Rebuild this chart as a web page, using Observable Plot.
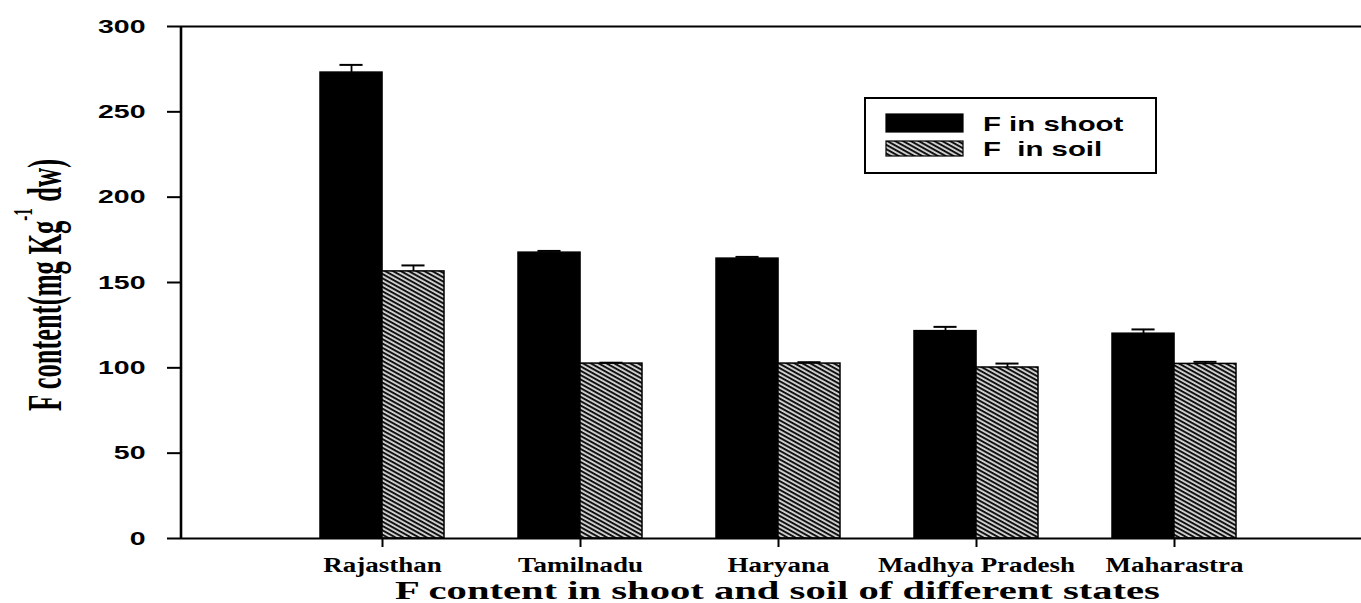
<!DOCTYPE html>
<html>
<head>
<meta charset="utf-8">
<script src="https://cdn.jsdelivr.net/npm/d3@7"></script>
<script src="https://cdn.jsdelivr.net/npm/@observablehq/plot@0.6"></script>
<style>
  html, body { margin: 0; padding: 0; background: #fff; overflow: hidden; }
  #chart svg { display: block; }
</style>
</head>
<body>
<div id="chart"></div>
<script>
// Fluoride content by state (mg Kg-1 dw), mean with upper error bar
const states = ["Rajasthan", "Tamilnadu", "Haryana", "Madhya Pradesh", "Maharastra"];
const shoot = [273, 167.5, 164, 121.5, 120];
const shootErr = [4.5, 1, 1, 2.5, 2.5];
const soil = [156.5, 102.5, 102.5, 100.2, 102.3];
const soilErr = [3.5, 0.5, 0.8, 2.3, 1.2];
const seriesLabels = ["F in shoot", "F  in soil"];
const yTicks = [0, 50, 100, 150, 200, 250, 300];
const xTitle = "F content in shoot and soil of different states";

const rows = states.map((state, i) => ({
  state,
  shoot: shoot[i], shootTop: shoot[i] + shootErr[i],
  soil: soil[i], soilTop: soil[i] + soilErr[i]
}));

// layout
const W = 1361, H = 603;
const M = {left: 181, right: 0, top: 26, bottom: 65};
const xRange = [181, 1374];
const padIn = 0.375, padOut = 0.696;
const band = d3.scaleBand(states, xRange).paddingInner(padIn).paddingOuter(padOut);
const half = band.bandwidth() / 2;   // one bar = half a group
const cap = 11.5;                    // half-width of an error-bar cap
const HATCH = "url(#soil-hatch)";

const plot = Plot.plot({
  width: W,
  height: H,
  marginLeft: M.left,
  marginRight: M.right,
  marginTop: M.top,
  marginBottom: M.bottom,
  style: {background: "#fff", color: "#000", fontFamily: "Liberation Sans", overflow: "visible"},
  x: {type: "band", domain: states, range: xRange, paddingInner: padIn, paddingOuter: padOut, align: 0.5},
  y: {domain: [0, 300]},
  marks: [
    // shoot bars (left half of each group)
    Plot.barY(rows, {x: "state", y: "shoot", fill: "#000", stroke: "#000", strokeWidth: 1.5, insetRight: half}),
    // soil bars (right half), hatched
    Plot.barY(rows, {x: "state", y: "soil", fill: HATCH, stroke: "#000", strokeWidth: 1.5, insetLeft: half}),
    // error bars: stems
    Plot.ruleX(rows, {x: "state", y1: "shoot", y2: "shootTop", dx: -half / 2, stroke: "#000", strokeWidth: 1.8}),
    Plot.ruleX(rows, {x: "state", y1: "soil", y2: "soilTop", dx: half / 2, stroke: "#000", strokeWidth: 1.8}),
    // error bars: caps
    Plot.tickY(rows, {x: "state", y: "shootTop", insetLeft: half / 2 - cap, insetRight: 1.5 * half - cap, stroke: "#000", strokeWidth: 2}),
    Plot.tickY(rows, {x: "state", y: "soilTop", insetLeft: 1.5 * half - cap, insetRight: half / 2 - cap, stroke: "#000", strokeWidth: 2}),
    // top and bottom frame lines
    Plot.ruleY([0, 300], {stroke: "#000", strokeWidth: 2}),
    Plot.axisY({ticks: yTicks, tickSize: 14, tickPadding: 22, strokeWidth: 2,
      fontSize: 19, fontFamily: "Liberation Sans", fontWeight: "bold", label: null}),
    Plot.axisX({tickSize: 9, tickPadding: 10, strokeWidth: 2,
      fontSize: 20, fontFamily: "Liberation Serif", fontWeight: "bold", label: null})
  ]
});

document.getElementById("chart").appendChild(plot);
const svg = d3.select(plot);
const yScale = plot.scale("y");
const xScale = plot.scale("x");

// hatch pattern for the soil series
const defs = svg.insert("defs", ":first-child");
const pat = defs.append("pattern")
  .attr("id", "soil-hatch")
  .attr("patternUnits", "userSpaceOnUse")
  .attr("width", 10).attr("height", 3.8)
  .attr("patternTransform", "rotate(29)");
pat.append("rect").attr("width", 10).attr("height", 3.8).attr("fill", "#d8d8d8");
pat.append("rect").attr("width", 10).attr("height", 2).attr("fill", "#111");

// left axis line
const y0 = yScale.apply(0), y300 = yScale.apply(300);
svg.append("line")
  .attr("x1", M.left).attr("x2", M.left)
  .attr("y1", y300).attr("y2", y0)
  .attr("stroke", "#000").attr("stroke-width", 2.6);

// widen text horizontally about its anchor
function widen(sel, sx) {
  sel.each(function () {
    const t = this.getAttribute("transform");
    if (t) {
      this.setAttribute("transform", `${t} scale(${sx},1)`);
    } else {
      const x = +this.getAttribute("x") || 0, y = +this.getAttribute("y") || 0;
      this.setAttribute("transform", `translate(${x},${y}) scale(${sx},1) translate(${-x},${-y})`);
    }
  });
}
widen(svg.selectAll('g[aria-label="y-axis tick label"] text'), 1.5);
widen(svg.selectAll('g[aria-label="x-axis tick label"] text'), 1.35);

// x title, centred on the category axis
const [r0, r1] = xScale.range;
const title = svg.append("text")
  .attr("text-anchor", "middle")
  .attr("font-family", "Liberation Serif")
  .attr("font-weight", "bold")
  .attr("font-size", 26)
  .attr("fill", "#000")
  .text(xTitle);
const natural = title.node().getComputedTextLength();
title.attr("transform", `translate(${(r0 + r1) / 2},599) scale(${765 / natural},1)`);

// y title, rotated
const yt = svg.append("text")
  .attr("transform", `translate(61,${(y0 + y300) / 2 + 3}) scale(1.8,1) rotate(-90)`)
  .attr("text-anchor", "middle")
  .attr("font-family", "Liberation Serif")
  .attr("font-weight", "bold")
  .attr("font-size", 26.5)
  .attr("fill", "#000");
yt.append("tspan").text("F content(mg Kg");
yt.append("tspan").attr("font-size", 15).attr("dy", -16).text("-1");
yt.append("tspan").attr("dy", 16).text(" dw)");

// legend
const lg = svg.append("g").attr("text-anchor", "start");
lg.append("rect").attr("x", 865).attr("y", 98).attr("width", 291).attr("height", 75)
  .attr("fill", "#fff").attr("stroke", "#000").attr("stroke-width", 2);
const swatches = [
  {fill: "#000", y: 114, h: 18, ty: 131},
  {fill: HATCH, y: 141, h: 15, ty: 156}
];
seriesLabels.forEach((label, i) => {
  const s = swatches[i];
  lg.append("rect").attr("x", 886).attr("y", s.y).attr("width", 77).attr("height", s.h)
    .attr("fill", s.fill).attr("stroke", "#000").attr("stroke-width", 1.2);
  lg.append("text")
    .attr("transform", `translate(983,${s.ty}) scale(1.4,1)`)
    .attr("text-anchor", "start")
    .attr("font-family", "Liberation Sans")
    .attr("font-weight", "bold")
    .attr("font-size", 21)
    .attr("fill", "#000")
    .style("white-space", "pre")
    .text(label);
});
</script>
</body>
</html>
